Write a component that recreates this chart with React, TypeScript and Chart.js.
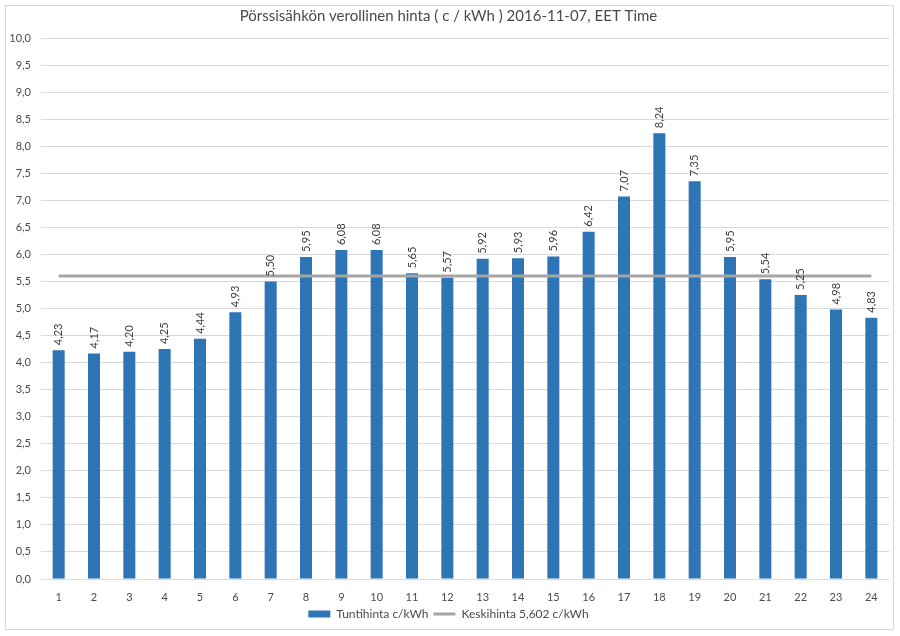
import React, { useEffect, useRef } from "react";
import { Chart, registerables } from "chart.js";

Chart.register(...registerables);

const chartTitle = "Pörssisähkön verollinen hinta ( c / kWh ) 2016-11-07, EET Time";
const categories = ["1", "2", "3", "4", "5", "6", "7", "8", "9", "10", "11", "12", "13", "14", "15", "16", "17", "18", "19", "20", "21", "22", "23", "24"];
const hourlyPrices = [4.23, 4.17, 4.2, 4.25, 4.44, 4.93, 5.5, 5.95, 6.08, 6.08, 5.65, 5.57, 5.92, 5.93, 5.96, 6.42, 7.07, 8.24, 7.35, 5.95, 5.54, 5.25, 4.98, 4.83];
const averagePrice = 5.602;
const averageSeries = categories.map(() => averagePrice);
const seriesNames = ["Tuntihinta c/kWh", "Keskihinta 5,602 c/kWh"];
const yMin = 0;
const yMax = 10;
const yStep = 0.5;

const FONT = "Lato, 'Open Sans', sans-serif";
const BAR_COLOR = "#2E75B6";
const LINE_COLOR = "#A5A5A5";
const TEXT_COLOR = "#4A4A4A";
const GRID_COLOR = "#D9D9D9";

const fmt = (v: number, d: number) => v.toFixed(d).replace(".", ",");

const framePlugin = {
  id: "frame",
  beforeDraw(chart: any) {
    const { ctx, width, height } = chart;
    ctx.save();
    ctx.fillStyle = "#FFFFFF";
    ctx.fillRect(0, 0, width, height);
    ctx.strokeStyle = GRID_COLOR;
    ctx.lineWidth = 1;
    ctx.strokeRect(5.5, 5.5, 888, 624);
    ctx.restore();
  },
};

const barLabelPlugin = {
  id: "barLabels",
  afterDatasetsDraw(chart: any) {
    const { ctx } = chart;
    const meta = chart.getDatasetMeta(0);
    const data = chart.data.datasets[0].data as number[];
    ctx.save();
    ctx.fillStyle = "#404040";
    ctx.font = `11px ${FONT}`;
    ctx.textAlign = "left";
    ctx.textBaseline = "middle";
    meta.data.forEach((el: any, i: number) => {
      ctx.save();
      ctx.translate(el.x, el.y - 5);
      ctx.rotate(-Math.PI / 2);
      ctx.fillText(fmt(data[i], 2), 0, 0);
      ctx.restore();
    });
    ctx.restore();
  },
};

export default function App() {
  const canvasRef = useRef<HTMLCanvasElement | null>(null);

  useEffect(() => {
    if (!canvasRef.current) return;
    const chart = new Chart(canvasRef.current, {
      type: "bar",
      data: {
        labels: categories,
        datasets: [
          {
            type: "bar",
            label: seriesNames[0],
            data: hourlyPrices,
            backgroundColor: BAR_COLOR,
            borderWidth: 0,
            barPercentage: 0.34,
            categoryPercentage: 1,
            order: 1,
          },
          {
            type: "line",
            label: seriesNames[1],
            data: averageSeries,
            borderColor: LINE_COLOR,
            backgroundColor: LINE_COLOR,
            borderWidth: 3,
            pointRadius: 0,
            pointHoverRadius: 0,
            fill: false,
            order: 0,
          } as any,
        ],
      },
      options: {
        responsive: false,
        animation: false,
        events: [],
        layout: { padding: { left: 8, right: 11, top: 0, bottom: 6 } },
        plugins: {
          title: {
            display: true,
            text: chartTitle,
            color: TEXT_COLOR,
            font: { family: FONT, size: 15, weight: "normal" },
            padding: { top: 7, bottom: 13 },
          },
          legend: {
            display: true,
            position: "bottom",
            labels: {
              color: TEXT_COLOR,
              font: { family: FONT, size: 12 },
              usePointStyle: true,
              pointStyleWidth: 22,
              boxHeight: 7,
              padding: 5,
              generateLabels: () => [
                {
                  text: seriesNames[0],
                  fillStyle: BAR_COLOR,
                  strokeStyle: BAR_COLOR,
                  lineWidth: 0,
                  pointStyle: "rect",
                  fontColor: TEXT_COLOR,
                  datasetIndex: 0,
                  hidden: false,
                } as any,
                {
                  text: seriesNames[1],
                  fillStyle: LINE_COLOR,
                  strokeStyle: LINE_COLOR,
                  lineWidth: 3,
                  pointStyle: "line",
                  fontColor: TEXT_COLOR,
                  datasetIndex: 1,
                  hidden: false,
                } as any,
              ],
            },
          },
          tooltip: { enabled: false },
        },
        scales: {
          x: {
            grid: { display: false, drawTicks: false },
            border: { display: false },
            ticks: {
              color: TEXT_COLOR,
              font: { family: FONT, size: 11 },
              padding: 12,
              maxRotation: 0,
            },
            afterFit: (scale: any) => {
              scale.height = 24;
            },
          },
          y: {
            min: yMin,
            max: yMax,
            grid: { color: GRID_COLOR, drawTicks: false, lineWidth: 1 },
            border: { display: false },
            ticks: {
              stepSize: yStep,
              color: TEXT_COLOR,
              font: { family: FONT, size: 11 },
              padding: 10,
              callback: (v: any) => fmt(Number(v), 1),
            },
            afterFit: (scale: any) => {
              scale.width = 33;
            },
          },
        },
      },
      plugins: [framePlugin, barLabelPlugin],
    });
    return () => chart.destroy();
  }, []);

  return (
    <div style={{ position: "absolute", left: 0, top: 0, width: 900, height: 636 }}>
      <canvas ref={canvasRef} width={900} height={636} />
    </div>
  );
}
